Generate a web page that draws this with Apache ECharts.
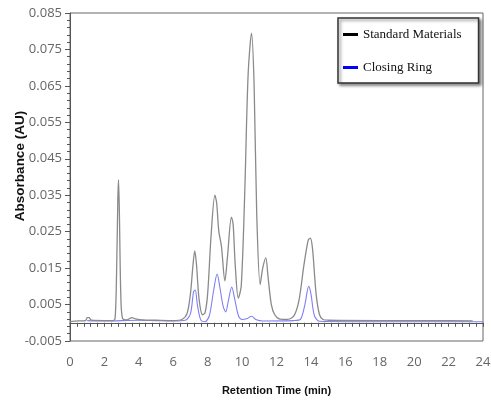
<!DOCTYPE html>
<html>
<head>
<meta charset="utf-8">
<script src="https://cdn.jsdelivr.net/npm/echarts@6/dist/echarts.min.js"></script>
<style>
  html, body { margin: 0; padding: 0; background: #fff; }
  #main { width: 491px; height: 401px; }
</style>
</head>
<body>
<div id="main"></div>
<script>
// chromatogram data (time in min, absorbance in AU)
var stdTime = [0, 0.5, 0.9, 1.0, 1.1, 1.25, 2.0, 2.5, 2.62, 2.7, 2.78, 2.82, 2.87, 2.95, 3.05, 3.3, 3.6, 3.8, 4.2, 5.0, 6.0, 6.5, 6.8, 7.0, 7.15, 7.25, 7.35, 7.5, 7.7, 7.85, 8.0, 8.2, 8.42, 8.52, 8.65, 8.8, 9.0, 9.15, 9.38, 9.48, 9.6, 9.78, 9.95, 10.15, 10.35, 10.55, 10.7, 10.85, 11.05, 11.2, 11.38, 11.5, 11.7, 11.9, 12.2, 12.6, 13.0, 13.3, 13.6, 13.85, 13.97, 14.1, 14.3, 14.5, 14.7, 15, 18, 21, 23.4];
var stdValue = [0.0003, 0.0005, 0.0006, 0.0014, 0.0014, 0.0007, 0.0006, 0.0006, 0.0012, 0.012, 0.034, 0.0392, 0.030, 0.008, 0.0012, 0.0008, 0.0014, 0.0011, 0.0008, 0.0007, 0.0006, 0.0009, 0.0025, 0.008, 0.016, 0.0197, 0.016, 0.0065, 0.0022, 0.0028, 0.008, 0.024, 0.035, 0.033, 0.025, 0.021, 0.0115, 0.018, 0.029, 0.027, 0.016, 0.0068, 0.010, 0.035, 0.068, 0.0795, 0.065, 0.030, 0.0105, 0.015, 0.0178, 0.013, 0.005, 0.0022, 0.001, 0.0009, 0.0018, 0.006, 0.016, 0.0228, 0.0232, 0.020, 0.008, 0.0022, 0.0009, 0.0007, 0.0006, 0.0006, 0.0005];

var ringTime = [1.0, 2.0, 4.0, 5.0, 6.0, 6.7, 7.0, 7.18, 7.28, 7.4, 7.6, 7.85, 8.1, 8.35, 8.55, 8.7, 8.9, 9.05, 9.2, 9.4, 9.55, 9.8, 10.0, 10.3, 10.55, 10.8, 11.2, 13.0, 13.4, 13.65, 13.87, 14.0, 14.2, 14.5, 16, 20, 24];
var ringValue = [0.0006, 0.0005, 0.0007, 0.0006, 0.0005, 0.0007, 0.0025, 0.0085, 0.009, 0.005, 0.0008, 0.0003, 0.002, 0.009, 0.0134, 0.010, 0.0045, 0.003, 0.006, 0.0098, 0.007, 0.0018, 0.0009, 0.0012, 0.0018, 0.0009, 0.0005, 0.0006, 0.001, 0.005, 0.010, 0.008, 0.002, 0.0004, 0.0003, 0.0003, 0.0003];

var yLabels = [-0.005, 0.005, 0.015, 0.025, 0.035, 0.045, 0.055, 0.065, 0.075, 0.085];
var yMinor = [-0.003, -0.001, 0.001, 0.003, 0.007, 0.009, 0.011, 0.013, 0.017, 0.019, 0.021, 0.023, 0.027, 0.029, 0.031, 0.033, 0.037, 0.039, 0.041, 0.043, 0.047, 0.049, 0.051, 0.053, 0.057, 0.059, 0.061, 0.063, 0.067, 0.069, 0.071, 0.073, 0.077, 0.079, 0.081, 0.083];

function pairs(xs, ys) {
  var out = [];
  for (var i = 0; i < xs.length; i++) out.push([xs[i], ys[i]]);
  return out;
}

var chart = echarts.init(document.getElementById('main'));
var tickFont = { color: '#666', fontSize: 13, fontFamily: 'Open Sans, sans-serif' };

chart.setOption({
  animation: false,
  grid: { left: 70, right: 8, top: 13, bottom: 60, show: true, borderColor: '#666', borderWidth: 1, outerBoundsMode: 'none' },
  legend: {
    orient: 'vertical',
    left: 338, top: 18,
    padding: [10, 17, 9, 5],
    itemGap: 20,
    itemWidth: 15, itemHeight: 3,
    backgroundColor: '#fff',
    borderColor: '#333', borderWidth: 1.5,
    shadowColor: 'rgba(0,0,0,0.45)', shadowBlur: 3, shadowOffsetX: 2, shadowOffsetY: 2,
    textStyle: { fontFamily: 'Liberation Serif, serif', fontSize: 13, color: '#111' },
    data: [
      { name: 'Standard Materials', icon: 'rect', itemStyle: { color: '#000' } },
      { name: 'Closing Ring', icon: 'rect', itemStyle: { color: '#0000ff' } }
    ]
  },
  xAxis: {
    type: 'value', min: 0, max: 24, interval: 2,
    name: 'Retention Time (min)', nameLocation: 'middle', nameGap: 44, nameMoveOverlap: false,
    nameTextStyle: { fontWeight: 'bold', fontSize: 11, color: '#111', fontFamily: 'Liberation Sans, Arial, sans-serif' },
    axisLine: { lineStyle: { color: '#555' } },
    axisTick: { length: 4, lineStyle: { color: '#555' } },
    minorTick: { show: true, splitNumber: 5, length: 4, lineStyle: { color: '#555' } },
    splitLine: { show: false },
    axisLabel: Object.assign({ margin: 15 }, tickFont)
  },
  yAxis: [{
    type: 'value', min: -0.005, max: 0.085,
    name: 'Absorbance (AU)', nameLocation: 'middle', nameGap: 43, nameMoveOverlap: false,
    nameTextStyle: { padding: [0, 0, 0, 22], fontWeight: 'bold', fontSize: 13.5, color: '#111', fontFamily: 'Liberation Sans, Arial, sans-serif' },
    axisLine: { show: true, lineStyle: { color: '#555' } },
    axisTick: { show: true, length: 5, customValues: yLabels, lineStyle: { color: '#555' } },
    splitLine: { show: false },
    axisLabel: Object.assign({ margin: 8, customValues: yLabels, formatter: function (v) { return v.toFixed(3); } }, tickFont)
  }, {
    type: 'value', min: -0.005, max: 0.085, position: 'left',
    axisLine: { show: false },
    axisTick: { show: true, length: 3, customValues: yMinor, lineStyle: { color: '#555' } },
    axisLabel: { show: false },
    splitLine: { show: false }
  }],
  series: [{
    name: 'Standard Materials', type: 'line', smooth: 0.3, symbol: 'none',
    lineStyle: { color: '#8a8a8a', width: 1.3 }, itemStyle: { color: '#8a8a8a' },
    z: 3,
    data: pairs(stdTime, stdValue)
  }, {
    name: 'Closing Ring', type: 'line', smooth: 0.3, symbol: 'none',
    lineStyle: { color: '#7f7ff5', width: 1.1 }, itemStyle: { color: '#7f7ff5' },
    z: 2,
    data: pairs(ringTime, ringValue)
  }]
});
</script>
</body>
</html>
